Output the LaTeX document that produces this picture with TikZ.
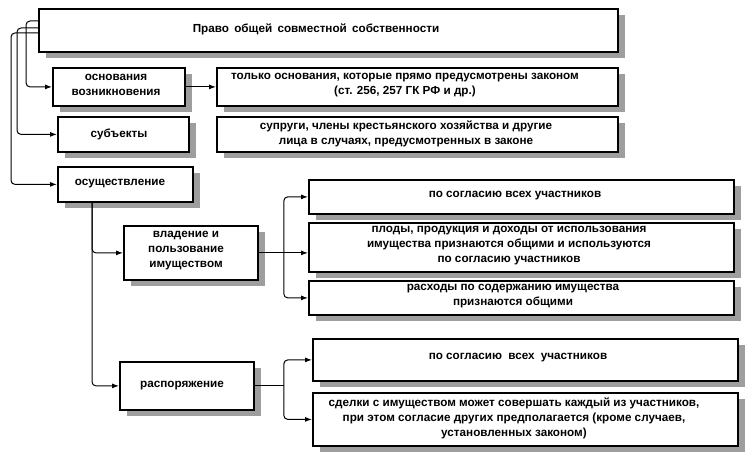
\documentclass[tikz,border=0pt]{standalone}
\usepackage{fontspec}
\setmainfont{Liberation Sans}
\usetikzlibrary{arrows.meta,shadows,calc}
\tikzset{
  box/.style={draw, line width=1.8pt, fill=white, inner sep=0pt, outer sep=0.9pt, anchor=north west,
    general shadow={fill=black!38, shadow xshift=7pt, shadow yshift=-6pt}},
  txt/.style={inner sep=0pt, align=center, font=\fontsize{11.7}{15}\selectfont\bfseries},
  conn/.style={line width=1pt, rounded corners=4pt, -{Latex[length=7pt,width=5pt]}},
  plain/.style={line width=1pt, rounded corners=4pt}
}
\begin{document}
\begin{tikzpicture}[x=1pt,y=-1pt]
\fill[white] (0,0) rectangle (753,462);
\useasboundingbox (0,0) rectangle (753,462);
% boxes
\node[box, minimum width=579pt, minimum height=43pt] (title) at (38,8) {};
\node[box, minimum width=132pt, minimum height=38pt] (ob) at (52,67) {};
\node[box, minimum width=401pt, minimum height=38pt] (obt) at (216,67) {};
\node[box, minimum width=131pt, minimum height=35pt] (sub) at (57,116) {};
\node[box, minimum width=401pt, minimum height=35pt] (subt) at (216,116) {};
\node[box, minimum width=135pt, minimum height=35pt] (osu) at (57,166) {};
\node[box, minimum width=134pt, minimum height=54pt] (vlad) at (123,225) {};
\node[box, minimum width=134pt, minimum height=48pt] (rasp) at (119,361) {};
\node[box, minimum width=425pt, minimum height=34pt] (A) at (308,179) {};
\node[box, minimum width=425pt, minimum height=49pt] (B) at (308,222) {};
\node[box, minimum width=425pt, minimum height=34pt] (C) at (308,280) {};
\node[box, minimum width=425pt, minimum height=42pt] (D) at (312,338) {};
\node[box, minimum width=425pt, minimum height=53pt] (E) at (312,392) {};
% texts
\node[txt] (ttitle) at (316,29) {Право\hspace{2pt} общей\hspace{2pt} совместной\hspace{2pt} собственности};
\node[txt] (tob) at (116,85) {основания\\возникновения};
\node[txt] (tobt) at (405,85) {только основания, которые прямо предусмотрены законом\\(ст. 256, 257 ГК РФ и др.)};
\node[txt] (tsub) at (119,134) {субъекты};
\node[txt] (tsubt) at (406,134) {супруги, члены крестьянского хозяйства и другие\\лица в случаях, предусмотренных в законе};
\node[txt] (tosu) at (120,184) {осуществление};
\node[txt] (tvlad) at (186,251) {владение и\\пользование\\имуществом};
\node[txt] (trasp) at (182,386) {распоряжение};
\node[txt] (tA) at (515,196) {по согласию всех участников};
\node[txt] (tB) at (509,246) {плоды, продукция и доходы от использования\\имущества признаются общими и используются\\по согласию участников};
\node[txt] (tC) at (513,296) {расходы по содержанию имущества\\признаются общими};
\node[txt] (tD) at (518,358) {по согласию\hspace{3pt} всех\hspace{3pt} участников};
\node[txt] (tE) at (514,418) {сделки с имуществом может совершать каждый из участников,\\при этом согласие других предполагается (кроме случаев,\\установленных законом)};
% connectors
\draw[conn] (title.west |- 0,21) -- ++(-12,0) |- (ob.west);
\draw[conn] (title.west |- 0,28) -- ++(-21,0) |- (sub.west);
\draw[conn] (title.west |- 0,33) -- ++(-27,0) |- (osu.west);
\draw[conn] (ob.east) -- (obt.west);
\draw[conn] ([xshift=35pt]osu.south west) |- (vlad.west);
\draw[conn] ([xshift=35pt]osu.south west) |- (rasp.west);
\draw[plain] (vlad.east) -- ++(25,0) coordinate (hv);
\draw[conn] (hv) |- (A.west);
\draw[conn] (hv) |- (C.west);
\draw[conn] (hv) -- (B.west |- hv);
\draw[plain] (rasp.east) -- ++(29,0) coordinate (hr);
\draw[conn] (hr) |- (D.west);
\draw[conn] (hr) |- (E.west);
\end{tikzpicture}
\end{document}
